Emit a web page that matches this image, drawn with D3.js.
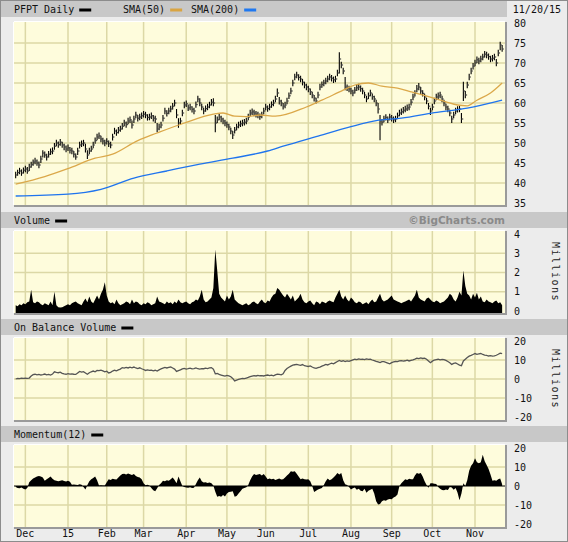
<!DOCTYPE html>
<html><head><meta charset="utf-8">
<script src="https://cdn.jsdelivr.net/npm/d3@7"></script>
<style>html,body{margin:0;padding:0;background:#fff}svg{display:block}</style>
</head><body><svg id="c" width="568" height="542"></svg>
<script>
// ---------------- DATA ----------------
const symbol = "PFPT Daily";
const lastDate = "11/20/15";
const firstDay = "2014-11-21", lastDay = "2015-11-20";
const holidays = ["2014-11-27","2014-12-25","2015-01-01","2015-01-19","2015-02-16","2015-04-03","2015-05-25","2015-07-03","2015-09-07"];
const monthLabels = ["Dec","15","Feb","Mar","Apr","May","Jun","Jul","Aug","Sep","Oct","Nov"];
const priceTicks = [80,75,70,65,60,55,50,45,40,35];
const volTicks = [4,3,2,1,0];
const obvTicks = [20,10,0,-10,-20];
const momTicks = [20,10,0,-10,-20];

const closes = [
42,42.6,43,42.5,43.2,43.5,43,44,44.6,45.2,
45.5,45,44.5,46,47.5,47,46.5,47.2,47.8,48,
49.2,50,49.6,50.2,49.5,49,48.5,48.8,48.2,48,
47.2,46.5,48,49.5,49.8,50,48.5,47,48,48.5,
49.5,50.6,51.5,51.8,51,50.5,50,50.4,49.8,49.5,
51.5,53,52.6,53.2,53.5,54.2,55,54.6,55.5,55.8,
54.5,56,57,56.2,56.5,56.8,57.2,57,56.4,56.5,
56.8,56.2,56,53.5,54,54.5,56.2,58,57.4,58,
58.5,59.2,60,57,55,55.5,57.5,59.5,59.8,58.8,
59,58.4,58,59.6,61,60,59,58,58.6,59,
59.5,60.2,60,55,55.8,56.5,56,55.5,55,54.6,
54,53,52,53.2,54,54.5,54.8,55,55.2,55.5,
56.5,57.5,57.8,57.5,57.2,57,56.6,57,58,59,
58.6,59,59.6,60,61,62.5,60.5,60,59.2,59.5,
60.5,61.8,63,65,66.5,67,66.4,66,65.2,64.5,
64,63.5,62.8,62,61.2,60.5,62,64,64.6,65,
65.5,66,66.5,66.2,65.8,66,67.5,71,69.5,68,
64,63.8,63.5,63,62.5,63.2,63.8,64,63.6,63,
62,61,61.8,62.5,61.6,61,60,58.5,55.5,55.2,
56,56.4,55.8,56.5,56.2,55.8,56,56.8,57.5,57.8,
58.2,58.5,58.8,59,60.2,61.5,62.4,63.5,64,63,
62.4,61.5,60.5,59.2,58,59,60.5,61.5,61.8,62,
61,60,59,58.5,57.5,56,57,58,58.4,58.5,
56,63,62,64.5,66.5,68,69.2,70,70.8,70.5,
71,71.5,72.2,72,71.6,71,71.2,71.5,70,72.5,
74.5,73.5];

const highs = [
42.8,43.3,43.8,43.4,43.9,44.3,44,44.8,45.3,45.9,
46.3,45.9,45.4,46.8,48.2,47.9,47.3,48,48.6,48.9,
50,50.8,50.4,51,50.3,49.8,49.4,49.6,49,48.8,
48,47.4,48.8,50.3,50.6,50.8,49.8,48.2,48.8,49.3,
50.3,51.4,52.3,52.6,51.8,51.3,50.8,51.2,50.6,50.3,
52.3,53.8,53.4,54,54.3,55,55.8,55.4,56.3,56.6,
55.6,56.8,57.8,57,57.3,57.6,58,57.8,57.2,57.3,
57.6,57,56.8,55,54.8,55.3,57,58.8,58.2,58.8,
59.3,60,60.8,58.5,56.2,56.3,58.3,60.3,60.6,59.6,
59.8,59.2,58.8,60.4,61.8,61.2,59.8,58.8,59.4,59.8,
60.3,61,61.2,57,56.6,57.3,56.8,56.3,55.8,55.4,
54.8,53.8,53,54,54.8,55.3,55.6,55.8,56,56.3,
57.3,58.3,58.6,58.3,58,57.8,57.4,57.8,58.8,59.8,
59.4,59.8,60.4,60.8,61.8,63.6,61.5,60.8,60,60.3,
61.3,62.6,63.8,65.8,67.3,67.8,67.2,66.8,66,65.3,
64.8,64.3,63.6,62.8,62,61.3,62.8,64.8,65.4,65.8,
66.3,66.8,67.3,67,66.6,66.8,68.3,72.7,70.3,68.8,
66.5,64.6,64.3,63.8,63.3,64,64.6,64.8,64.4,63.8,
62.8,61.8,62.6,63.3,62.4,61.8,60.8,60,57,56,
56.8,57.2,56.6,57.3,57,56.6,56.8,57.6,58.3,58.6,
59,59.3,59.6,59.8,61,62.3,63.2,64.5,65,64,
63.2,62.3,61.3,60,58.8,59.8,61.3,62.3,62.6,62.8,
61.8,60.8,59.8,59.3,58.3,56.8,57.8,58.8,59.2,59.3,
57.5,65.3,63,65.3,67.3,68.8,70,70.8,71.6,71.3,
71.8,72.3,73,72.8,72.4,71.8,72,72.3,71,73.3,
75.3,74.5];

const lows = [
41.2,41.8,42.2,41.8,42.4,42.7,42.3,43,43.8,44.3,
44.7,44.3,43.7,45,46.4,46.3,45.6,46.4,47,47.2,
48.3,49.2,48.8,49.3,48.8,48.2,47.7,48,47.4,47.2,
46.4,45.8,47,48.6,49,49.2,47.6,46,47.2,47.8,
48.7,49.8,50.7,51,50.2,49.6,49.2,49.6,49,48.7,
50.6,52.2,51.8,52.4,52.8,53.4,54.2,53.8,54.7,55,
53.6,55,56.2,55.4,55.7,56,56.4,56.2,55.6,55.7,
56,55.4,55,52.7,53.2,53.7,55.4,57.2,56.6,57.2,
57.7,58.4,59.2,56.2,53.8,54.7,56.7,58.7,59,58,
58.2,57.6,57.2,58.8,60.2,59.2,58.2,57.2,57.8,58.2,
58.7,59.4,59.2,52.7,55,55.7,55.2,54.7,54.2,53.8,
53.2,52.2,51,52.4,53.2,53.7,54,54.2,54.4,54.7,
55.7,56.7,57,56.7,56.4,56.2,55.8,56.2,57.2,58.2,
57.8,58.2,58.8,59.2,60.2,61.5,59.6,59.2,58.4,58.7,
59.7,61,62.2,64.2,65.7,66.2,65.6,65.2,64.4,63.7,
63.2,62.7,62,61.2,60.4,59.9,61.2,63.2,63.8,64.2,
64.7,65.2,65.7,65.4,65,65.2,66.7,67.4,68.7,67.2,
63.2,63,62.7,62.2,61.7,62.4,63,63.2,62.8,62.2,
61.2,60.2,61,61.7,60.8,60.2,59.2,57.4,50.7,54.4,
55.2,55.6,55,55.7,55.4,55,55.2,56,56.7,57,
57.4,57.7,58,58.2,59.4,60.7,61.6,62.7,63.2,62.2,
61.6,60.7,59.7,58.4,57,58.2,59.7,60.7,61,61.2,
60.2,59.2,58.2,57.7,56.7,55,56.2,57.2,57.6,57.7,
55,60.5,61.2,63.7,65.7,67.2,68.4,69.2,70,69.7,
70.2,70.7,71.4,71.2,70.8,70.2,70.4,70.7,69.2,71.7,
73.2,72.8];

// SMA lines read at sparse trading-day indices
const sma50Idx = [0,15,27,41,50,63,73,87,102,107,113,119,126,134,150,158,169,175,182,189,197,204,213,222,228,233,238,245,251];
const sma50Val = [39.7,41.6,43.6,46.2,47.2,50.6,52.5,55,57.2,57.5,56.7,56.6,57,56.7,59,60.7,63.2,64.5,65,64.2,63.7,62.8,61.6,60.3,59.5,59.3,60.7,62.5,65];
const sma200Idx = [0,27,44,61,78,95,112,130,138,155,173,186,199,216,233,251];
const sma200Val = [36.75,37.2,38.4,41.2,43,44.7,46.2,48,49.2,51.6,54.1,55.6,56.2,57.6,58.7,60.7];

const volume = [
0.3,0.25,0.35,0.3,0.4,0.35,0.45,0.5,1.1,0.45,
0.4,0.5,0.45,0.35,0.3,0.4,0.35,0.3,0.5,0.3,
1.0,0.3,0.2,0.18,0.2,0.25,0.3,0.35,0.3,0.4,
0.45,0.5,0.4,0.35,0.3,0.5,0.65,0.45,0.75,0.5,
0.4,0.6,0.8,0.6,0.9,1.1,1.5,0.8,0.5,0.4,
0.45,0.35,0.6,0.4,0.3,0.35,0.4,0.5,0.45,0.35,
0.6,0.4,0.5,0.45,0.35,0.3,0.4,0.35,0.45,0.4,
0.3,0.35,0.4,0.75,0.5,0.45,0.4,0.35,0.5,0.4,
0.45,0.35,0.5,0.4,0.6,0.45,0.4,0.45,0.5,0.4,
0.35,0.45,0.5,0.6,0.55,0.75,1.1,0.6,0.45,0.5,
0.6,0.7,1.2,3.2,2.1,0.9,0.7,0.6,0.5,0.8,
0.6,0.75,1.1,0.6,0.5,0.4,0.35,0.3,0.35,0.4,
0.3,0.35,0.45,0.5,0.4,0.35,0.5,0.6,0.45,0.4,
0.55,0.5,0.7,0.85,0.9,1.2,1.1,0.95,0.8,0.7,
0.9,0.75,0.6,0.8,0.5,0.6,0.7,0.9,0.6,0.45,
0.4,0.5,0.55,0.4,0.3,0.5,0.45,0.35,0.5,0.45,
0.4,0.5,0.55,0.5,0.45,0.7,0.9,1.1,0.75,0.6,
0.8,0.6,0.5,0.7,0.6,0.45,0.4,0.5,0.45,0.35,
0.4,0.45,0.35,0.5,0.6,0.45,0.5,0.7,0.9,0.6,
0.5,0.55,0.6,0.7,0.8,0.6,0.55,0.5,0.45,0.4,
0.45,0.5,0.55,0.6,0.5,0.65,0.8,1.1,0.7,0.6,
0.55,0.5,0.65,0.7,0.6,0.5,0.45,0.55,0.5,0.4,
0.45,0.5,0.6,0.7,0.9,0.8,0.6,0.5,0.7,1.0,
0.8,2.1,1.3,0.9,0.8,0.6,0.9,0.7,0.95,0.6,
0.75,0.5,0.45,0.6,0.5,0.45,0.4,0.5,0.55,0.4,
0.45,0.3];

const obv = [
0,0.3,0.2,0.5,0.3,0.4,0.3,0.5,1.6,2.3,
2.5,2.2,2.4,2.1,2.3,2.6,2.2,2.4,2.1,2.6,
3.8,3.5,3.3,3.6,3.0,2.7,2.5,2.8,2.6,2.7,
2.5,2.4,3.2,4,3.6,3.9,3.2,2.5,3.3,3.8,
4.2,3.8,4.5,4.4,4.7,4.3,3.8,4.1,3.2,3.5,
4.2,4.6,4.3,4.8,5.2,6,5.7,6.1,5.8,6.2,
5.9,6.3,5.8,5.5,5.9,5.4,5.0,4.5,4.8,4.5,
4.7,4.3,4.6,4.2,4.8,5.3,5.7,6.1,5.8,6.1,
6.3,5.8,5.2,4,4.4,4.8,5.3,5.6,5.2,5.4,
5.7,5.3,5.5,5.8,5.4,5.2,5.5,5.4,5.7,5.5,
5.8,6,5.2,2.7,2.9,2.4,2.1,1.8,1.5,1.9,
1.6,1.2,0.3,-1,-0.6,-0.2,0.1,0.3,0.2,0.5,
0.8,1.2,1.5,1.8,1.6,1.9,1.7,1.8,1.6,1.9,
2.1,1.8,2.0,1.7,2.2,2.6,2.4,2.2,2.7,4.5,
5.5,6.2,6.8,7.3,7.5,7.7,7.4,7.2,7.6,7.0,
6.8,6.6,6.9,6.3,5.8,5.6,6.0,6.3,6.8,7.2,
7.7,7.4,7.9,8.3,8.0,8.6,9.2,9.8,9.3,9.6,
9.2,9.5,9.3,9.7,10.1,10.4,10.2,10.6,10.3,10.5,
10.2,10.6,10.3,10.4,10.0,9.7,9.3,9.0,8.6,9.1,
9.1,8.8,8.4,8.0,8.6,9.0,9.2,9.1,9.5,9.7,
9.4,9.6,9.9,9.5,9.8,10.1,10.5,11,10.7,11.1,
10.8,11,10.4,9.5,8.6,9.4,10.0,10.2,10.4,10.1,
10.3,10.2,9.8,9.2,8.6,7.7,8.2,8.5,7.9,7.3,
7.0,9.5,10.4,11.3,12.0,12.4,12.9,13.4,13.0,13.2,
13.4,12.9,12.6,12.4,12.1,12.3,12.0,12.2,12.5,13.0,
13.6,13.4];

const momentum = [
-0.5,-1,-1.2,-0.8,-1.5,-1.8,-1,2,3,4,
4.5,5,5.3,5,4.5,2.7,3.5,4.2,5,3.8,
3,2.7,2.5,2.8,3,2.6,2.4,2.7,2.2,0.7,
0.8,0.6,0.5,0.9,0.7,-0.5,-1.8,0.5,2.5,3.5,
4.2,5,3,0.3,0.4,0.2,0.3,2,3.6,3.2,
3.8,3.6,3.4,4.5,5.5,6.3,6.5,6.1,6.6,6.2,
5.8,6.3,5.2,4.8,4.5,3.5,1.5,0.4,0.6,0.3,
-1,-2.2,-2.7,-1.2,0.5,1.5,2.7,2.5,3,2.7,
3.5,4.5,3.2,1.5,5,2.5,0,-0.5,-0.8,-0.9,
-0.6,-1,-0.9,1,3,4.5,2.5,1.8,2,1.6,
1.8,1.5,0.3,-3,-5.7,-5.2,-5.7,-4.8,-5.5,-4,
-3.2,-3,-2.7,-5.7,-5.2,-4,-2.7,-1.5,-1,-0.7,
0.5,3,5,6.3,5.8,6,6.3,5.5,6.3,5,
3.6,4,3.5,3.8,3.2,3.6,4,3.4,3.6,4.5,
5.5,6.5,7.7,7.5,7.7,6.5,5,3.6,4,3.6,
3.4,3.6,2.5,0,-3.2,-2.5,-1.8,-1.5,-1,0.5,
2.5,4,3,3.5,4.5,5.5,6.8,6,6.8,3,
0.9,0.5,-0.5,-1.8,-1.2,-0.8,-2,-1.5,-2.5,-2.7,
-1.5,-3.5,-2.5,-2,-1.5,-4,-8,-9.8,-9.5,-8,
-7.5,-7.8,-7.1,-6.8,-7,-6,-5.5,-4.5,0,1.5,
2.5,3.6,3.2,3.8,3.6,3.5,5.5,6.8,6.5,6.8,
5,2.5,0.5,-0.9,1.4,1.5,1.2,1,-0.5,-1.5,
-2.1,-2.3,-1.8,-2.1,-0.5,-0.8,-2,-1,-3.5,-7.5,
-4,1.5,0,3,8,10.7,12,14.6,12.5,12,
12.5,16.4,13,11,8.9,6,2.7,3,2.7,3.5,
4,0.9];

// ---------------- BUILD ----------------
const parse = d3.timeParse("%Y-%m-%d"), fmt = d3.timeFormat("%Y-%m-%d");
const hol = new Set(holidays);
const dates = d3.timeDay.range(parse(firstDay), d3.timeDay.offset(parse(lastDay),1))
  .filter(d => d.getDay()!==0 && d.getDay()!==6 && !hol.has(fmt(d)));
const N = Math.min(dates.length, closes.length);
const rows = d3.range(N).map(i => ({date: dates[i], c: closes[i], h: highs[i], l: lows[i], v: volume[i], obv: obv[i], m: momentum[i]}));

const W = 568, H = 542, L = 14, R = 505;
const x = d3.scaleBand().domain(rows.map(d => d.date)).range([14.7, 503.1]);
const bw = x.bandwidth();
const cx = d => x(d) + bw/2;
const monthStarts = rows.filter((d,i) => i>0 && d.date.getMonth() !== rows[i-1].date.getMonth()).map(d => d.date);

const svg = d3.select("#c");
const FONT = "'DejaVu Sans Mono', monospace";
const GRID = "#dcd8a6", BG = "#fefcdc";

svg.append("rect").attr("x",0.5).attr("y",0.5).attr("width",W-1).attr("height",H-1)
  .attr("fill","#ececec").attr("stroke","#8c8c8c");

function header(y, w) {
  svg.append("rect").attr("x",1).attr("y",y).attr("width",w).attr("height",16).attr("fill","#c8c8c8");
}
function legendItem(xp, y, label, color) {
  const t = svg.append("text").attr("x",xp).attr("y",y).attr("font-family",FONT).attr("font-size",10)
    .attr("fill","#111").text(label);
  const tw = t.node().getComputedTextLength();
  svg.append("rect").attr("x",xp+tw+5).attr("y",y-4.5).attr("width",12).attr("height",3).attr("fill",color);
}
function plotBox(top, bot) {
  svg.append("rect").attr("x",L).attr("y",top).attr("width",R-L).attr("height",bot-top).attr("fill",BG);
}
function frame(top, bot) {
  svg.append("line").attr("x1",L).attr("x2",R).attr("y1",bot+1).attr("y2",bot+1).attr("stroke","#9a9a9a").attr("stroke-width",2);
  svg.append("line").attr("x1",R+1).attr("x2",R+1).attr("y1",top).attr("y2",bot+2).attr("stroke","#9a9a9a").attr("stroke-width",2);
  svg.append("line").attr("x1",L).attr("x2",R).attr("y1",top-0.5).attr("y2",top-0.5).attr("stroke","#ffffff").attr("stroke-width",1);
  svg.append("line").attr("x1",L-0.5).attr("x2",L-0.5).attr("y1",top).attr("y2",bot).attr("stroke","#ffffff").attr("stroke-width",1);
}
function grid(top, bot, y, ticks, skip) {
  const g = svg.append("g");
  g.selectAll("line.v").data(monthStarts).join("line")
    .attr("x1",d=>cx(d)).attr("x2",d=>cx(d)).attr("y1",top).attr("y2",bot)
    .attr("stroke",GRID).attr("stroke-width",1.5);
  g.selectAll("line.h").data(ticks.filter(t => !skip.includes(t))).join("line")
    .attr("x1",L).attr("x2",R).attr("y1",d=>y(d)).attr("y2",d=>y(d))
    .attr("stroke",GRID).attr("stroke-width",1.5);
}
function yLabels(y, ticks) {
  svg.append("g").selectAll("text").data(ticks).join("text")
    .attr("x",514).attr("y",d=>y(d)+3.5).attr("font-family",FONT).attr("font-size",10).attr("fill","#111")
    .text(d=>d);
}
function millions(cyy) {
  svg.append("text").attr("transform",`translate(552,${cyy}) rotate(90)`)
    .attr("text-anchor","middle").attr("font-family",FONT).attr("font-size",10).attr("fill","#222")
    .attr("letter-spacing",1.5).text("Millions");
}

// ---- main price panel
header(1, 506);
legendItem(14, 13, symbol, "#000");
legendItem(123, 13, "SMA(50)", "#d9a441");
legendItem(191, 13, "SMA(200)", "#1f78f0");
svg.append("text").attr("x",561).attr("y",13).attr("text-anchor","end").attr("font-family",FONT)
  .attr("font-size",10).attr("fill","#111").text(lastDate);

const mTop = 22, mBot = 205;
const yP = d3.scaleLinear().domain([35,80]).range([203,23]);
plotBox(mTop, mBot);
grid(mTop, mBot, yP, priceTicks, [80,35]);
yLabels(yP, priceTicks);

const pg = svg.append("g");
pg.selectAll("line.hl").data(rows).join("line")
  .attr("x1",d=>cx(d.date)).attr("x2",d=>cx(d.date)).attr("y1",d=>yP(d.h)).attr("y2",d=>yP(d.l))
  .attr("stroke","#000").attr("stroke-width",1.1);
pg.selectAll("line.cl").data(rows).join("line")
  .attr("x1",d=>cx(d.date)).attr("x2",d=>cx(d.date)+1.8).attr("y1",d=>yP(d.c)).attr("y2",d=>yP(d.c))
  .attr("stroke","#444").attr("stroke-width",1.2);

const smaLine = d3.line().x(d=>cx(rows[d[0]].date)).y(d=>yP(d[1])).curve(d3.curveMonotoneX);
svg.append("path").attr("d",smaLine(d3.zip(sma50Idx,sma50Val))).attr("fill","none")
  .attr("stroke","#dba84a").attr("stroke-width",1.3);
svg.append("path").attr("d",smaLine(d3.zip(sma200Idx,sma200Val))).attr("fill","none")
  .attr("stroke","#1f74ee").attr("stroke-width",1.3);
frame(mTop, mBot);

// ---- lower panels
const P = 107;
function panel(k) { return {hdr: 212 + P*k, top: 231 + P*k, bot: 313 + P*k}; }

// Volume
let p = panel(0);
header(p.hdr, 566);
legendItem(14, p.hdr+12, "Volume", "#000");
svg.append("text").attr("x",505).attr("y",p.hdr+12).attr("text-anchor","end")
  .attr("font-family","'DejaVu Sans', Verdana, sans-serif").attr("font-weight","bold").attr("font-size",10.5)
  .attr("fill","#8a8a8a").text("\u00A9BigCharts.com");
const yV = d3.scaleLinear().domain([0,4]).range([p.bot-2, p.top+3]);
plotBox(p.top, p.bot);
grid(p.top, p.bot, yV, volTicks, [0,4]);
yLabels(yV, volTicks);
svg.append("path").datum(rows)
  .attr("d", d3.area().x(d=>cx(d.date)).y0(p.bot).y1(d=>yV(d.v)))
  .attr("fill","#000");
frame(p.top, p.bot);
millions((p.top+p.bot)/2);

// OBV
p = panel(1);
header(p.hdr, 566);
legendItem(14, p.hdr+12, "On Balance Volume", "#000");
const yO = d3.scaleLinear().domain([-20,20]).range([p.bot-3, p.top+3]);
plotBox(p.top, p.bot);
grid(p.top, p.bot, yO, obvTicks, [20,-20]);
yLabels(yO, obvTicks);
svg.append("path").datum(rows).attr("d", d3.line().x(d=>cx(d.date)).y(d=>yO(d.obv)))
  .attr("fill","none").attr("stroke","#555").attr("stroke-width",1.3);
frame(p.top, p.bot);
millions((p.top+p.bot)/2);

// Momentum
p = panel(2);
const pm = p;
header(p.hdr, 566);
legendItem(14, p.hdr+12, "Momentum(12)", "#000");
const yM = d3.scaleLinear().domain([-20,20]).range([p.bot-3, p.top+3]);
plotBox(p.top, p.bot);
grid(p.top, p.bot, yM, momTicks, [20,-20,0]);
yLabels(yM, momTicks);
svg.append("path").datum(rows).attr("d", d3.area().x(d=>cx(d.date)).y0(yM(0)).y1(d=>yM(d.m)))
  .attr("fill","#000");
svg.append("line").attr("x1",L).attr("x2",R).attr("y1",yM(0)).attr("y2",yM(0)).attr("stroke","#000").attr("stroke-width",1);
frame(p.top, p.bot);

// x-axis month labels
svg.append("g").selectAll("text").data(monthStarts).join("text")
  .attr("x",d=>cx(d)).attr("y",pm.bot+9.5).attr("text-anchor","middle")
  .attr("font-family",FONT).attr("font-size",10).attr("fill","#111")
  .text((d,i)=>monthLabels[i]);
</script></body></html>
